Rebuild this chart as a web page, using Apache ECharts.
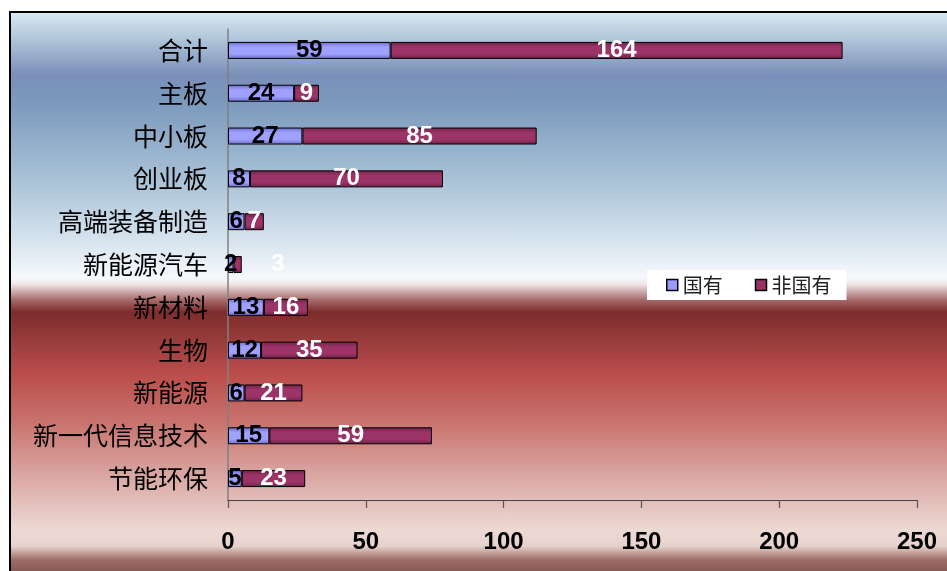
<!DOCTYPE html>
<html>
<head>
<meta charset="utf-8">
<script src="https://cdn.jsdelivr.net/npm/echarts@6/dist/echarts.min.js"></script>
<style>
  html, body { margin: 0; padding: 0; width: 947px; height: 571px; overflow: hidden; background: #fff; }
  #frame {
    position: absolute; left: 9px; top: 11px; width: 960px; height: 590px;
    border: 2px solid #000;
    background: linear-gradient(to bottom,
      #d8e8f2 0px, #aec4d8 27px, #7b8fb8 62px, #7a98bc 87px, #a9c2d7 167px,
      #d6e3ee 227px, #f6f9fc 265px, #f2e6e6 271px, #a66a6a 287px, #7d2c2c 299px,
      #983c3c 327px, #bb4e4c 362px, #c8716b 407px, #d8a19d 457px, #ecd9d4 517px,
      #e6d3cd 533px, #9d6d66 547px, #6e463f 570px);
  }
  #chart { position: absolute; left: 0; top: 0; width: 947px; height: 571px; }
</style>
</head>
<body>
<div id="frame"></div>
<div id="chart"></div>
<script>
// Listed companies by sector and ownership
const categories = ['合计', '主板', '中小板', '创业板', '高端装备制造', '新能源汽车', '新材料', '生物', '新能源', '新一代信息技术', '节能环保'];
const stateOwned = [59, 24, 27, 8, 6, 2, 13, 12, 6, 15, 5];
const nonStateOwned = [164, 9, 85, 70, 7, 3, 16, 35, 21, 59, 23];
const xTicks = { min: 0, max: 250, interval: 50 };

const numFont = '"Liberation Sans", Arial, sans-serif';
const cjkFont = '"Noto Sans CJK SC", sans-serif';

function bandGradient(edge, mid) {
  return new echarts.graphic.LinearGradient(0, 0, 0, 1, [
    { offset: 0, color: edge },
    { offset: 0.3, color: mid },
    { offset: 0.7, color: mid },
    { offset: 1, color: edge }
  ]);
}

const chart = echarts.init(document.getElementById('chart'), null, { renderer: 'canvas' });

chart.setOption({
  backgroundColor: 'transparent',
  animation: false,
  grid: { left: 228, right: 30, top: 29, bottom: 71, containLabel: false },
  legend: {
    left: 647, top: 270,
    padding: [5, 15, 5, 19],
    backgroundColor: '#ffffff',
    itemWidth: 11, itemHeight: 11, itemGap: 32,
    textStyle: { fontFamily: cjkFont, fontSize: 20, color: '#222' },
    data: [
      { name: '国有', icon: 'rect', itemStyle: { color: '#9999ff', borderColor: '#000', borderWidth: 1.5 } },
      { name: '非国有', icon: 'rect', itemStyle: { color: '#993366', borderColor: '#000', borderWidth: 1.5 } }
    ]
  },
  xAxis: {
    type: 'value',
    min: xTicks.min, max: xTicks.max, interval: xTicks.interval,
    splitLine: { show: false },
    axisLine: { show: true, lineStyle: { color: '#444', width: 1.2 } },
    axisTick: { show: true, length: 8, inside: false, lineStyle: { color: '#555', width: 1.2 } },
    axisLabel: { margin: 30, fontFamily: numFont, fontSize: 24, fontWeight: 'bold', color: '#000' }
  },
  yAxis: {
    type: 'category',
    data: categories,
    inverse: true,
    axisLine: { show: true, lineStyle: { color: '#808080', width: 1.5 } },
    axisTick: { show: false },
    axisLabel: { margin: 20, fontFamily: cjkFont, fontSize: 25, color: '#000' }
  },
  series: [
    {
      name: '国有',
      type: 'bar',
      stack: 'total',
      barWidth: 17,
      data: stateOwned,
      itemStyle: { color: bandGradient('#6b6bc8', '#a0a0ff'), borderColor: '#000', borderWidth: 1 },
      label: {
        show: true, position: 'inside',
        fontFamily: numFont, fontSize: 24, fontWeight: 'bold', color: '#000'
      }
    },
    {
      name: '非国有',
      type: 'bar',
      stack: 'total',
      barWidth: 17,
      data: nonStateOwned.map((v, i) => categories[i] === '新能源汽车'
        ? { value: v, label: { offset: [40, 0] } }
        : v),
      itemStyle: { color: bandGradient('#6d2248', '#9c3468'), borderColor: '#000', borderWidth: 1 },
      label: {
        show: true, position: 'inside',
        fontFamily: numFont, fontSize: 24, fontWeight: 'bold', color: '#fff'
      }
    }
  ]
});
</script>
</body>
</html>
